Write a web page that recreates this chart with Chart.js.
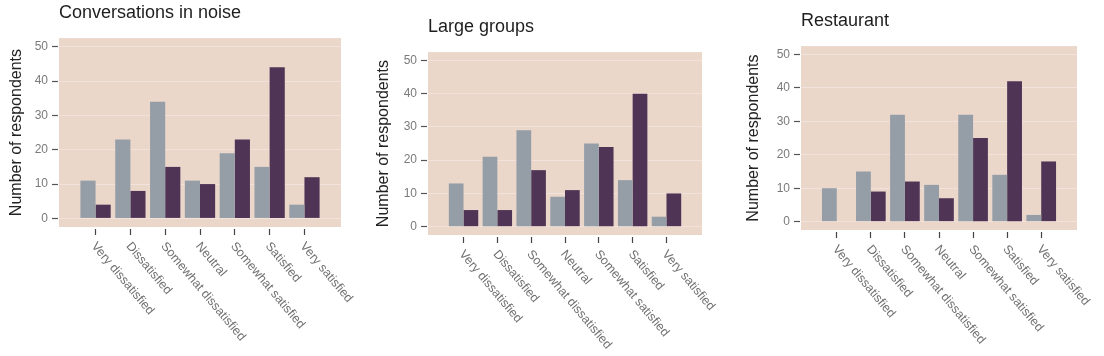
<!DOCTYPE html>
<html>
<head>
<meta charset="utf-8">
<script src="https://cdn.jsdelivr.net/npm/chart.js@4"></script>
<style>
  html, body { margin: 0; padding: 0; background: #ffffff; }
  body { width: 1104px; height: 356px; position: relative; overflow: hidden; }
  .panel { position: absolute; }
</style>
</head>
<body>
<div class="panel" id="p1"><canvas id="c1"></canvas></div>
<div class="panel" id="p2"><canvas id="c2"></canvas></div>
<div class="panel" id="p3"><canvas id="c3"></canvas></div>
<script>
// ---- data ----
const categories = ["Very dissatisfied", "Dissatisfied", "Somewhat dissatisfied", "Neutral", "Somewhat satisfied", "Satisfied", "Very satisfied"];
const yTicks = [0, 10, 20, 30, 40, 50];
const panelTitles = ["Conversations in noise", "Large groups", "Restaurant"];
const yAxisTitle = "Number of respondents";
const seriesNames = ["Group A", "Group B"];

const noiseGrey   = [11, 23, 34, 11, 19, 15, 4];
const noisePurple = [4, 8, 15, 10, 23, 44, 12];
const groupsGrey   = [13, 21, 29, 9, 25, 14, 3];
const groupsPurple = [5, 5, 17, 11, 24, 40, 10];
const restGrey   = [10, 15, 32, 11, 32, 14, 2];
const restPurple = [0, 9, 12, 7, 25, 42, 18];

// ---- styling / layout ----
const FONT = "'Liberation Sans', Arial, sans-serif";
const GREY = "#959ea6";
const PURPLE = "#4f3456";
const PANEL_BG = "#ebd6ca";

// geometry per panel (canvas placement and plot-area box)
const layouts = [
  { left: 0,   top: 0,  bgLeft: 59,  bgRight: 341,  bgBottom: 227 },
  { left: 367, top: 14, bgLeft: 428, bgRight: 702,  bgBottom: 235 },
  { left: 737, top: 8,  bgLeft: 801, bgRight: 1077, bgBottom: 230 }
];

const panelBg = {
  id: 'panelBg',
  beforeDraw(chart) {
    const { ctx, chartArea: a } = chart;
    ctx.save();
    ctx.fillStyle = PANEL_BG;
    ctx.fillRect(a.left, a.top, a.right - a.left, a.bottom - a.top);
    ctx.restore();
  }
};

const slantLabels = {
  id: 'slantLabels',
  afterDraw(chart) {
    const { ctx, chartArea: a } = chart;
    const xs = chart.scales.x;
    ctx.save();
    ctx.fillStyle = "#707070";
    ctx.font = "12.5px " + FONT;
    ctx.textAlign = "left";
    ctx.textBaseline = "middle";
    categories.forEach((lab, i) => {
      const x = xs.getPixelForValue(i) - 2;
      const y = a.bottom + 17;
      ctx.save();
      ctx.translate(x, y);
      ctx.rotate(50 * Math.PI / 180);
      ctx.fillText(lab, 0, 0);
      ctx.restore();
    });
    ctx.restore();
  }
};

function makeChart(idx, grey, purple) {
  const L = layouts[idx];
  const canvasW = L.bgRight - L.left + 20;
  const canvasH = 356 - L.top;
  const div = document.getElementById('p' + (idx + 1));
  div.style.left = L.left + 'px';
  div.style.top = L.top + 'px';
  div.style.width = canvasW + 'px';
  div.style.height = canvasH + 'px';
  const xAxisH = 8;
  const padBottom = canvasH - xAxisH - (L.bgBottom - L.top);

  new Chart(document.getElementById('c' + (idx + 1)), {
    type: 'bar',
    data: {
      datasets: [
        { label: seriesNames[0], data: grey.map((v, i) => ({ x: i, y: v })), backgroundColor: GREY, borderWidth: 0 },
        { label: seriesNames[1], data: purple.map((v, i) => ({ x: i, y: v })), backgroundColor: PURPLE, borderWidth: 0 }
      ]
    },
    options: {
      responsive: true,
      maintainAspectRatio: false,
      animation: false,
      events: [],
      categoryPercentage: 0.87,
      barPercentage: 1.0,
      layout: { padding: { left: 0, right: 20, top: 0, bottom: padBottom } },
      plugins: {
        legend: { display: false },
        tooltip: { enabled: false },
        title: {
          display: true,
          text: panelTitles[idx],
          align: 'start',
          fullSize: false,
          color: '#1e1e1e',
          font: { family: FONT, size: 18, weight: 'normal' },
          padding: { top: 2.5, bottom: 14 }
        }
      },
      scales: {
        x: {
          type: 'linear',
          min: -1.05,
          max: 7.05,
          offset: false,
          afterBuildTicks: (s) => { s.ticks = categories.map((_, i) => ({ value: i })); },
          afterFit: (s) => { s.height = xAxisH; },
          border: { display: false },
          grid: {
            offset: false,
            drawOnChartArea: false,
            drawTicks: true,
            tickLength: 8,
            tickColor: '#444444',
            tickWidth: 1.2,
            tickBorderDash: [0, 2, 6, 100]
          },
          ticks: { display: false }
        },
        y: {
          min: -2.5,
          max: 52.5,
          afterBuildTicks: (s) => { s.ticks = yTicks.map(v => ({ value: v })); },
          afterFit: (s) => { s.width = L.bgLeft - L.left; },
          border: { display: false },
          grid: {
            color: 'rgba(255,255,255,0.32)',
            lineWidth: 1,
            drawTicks: true,
            tickLength: 7,
            tickColor: '#555555',
            tickWidth: 1.2,
            tickBorderDash: [6, 100]
          },
          ticks: {
            color: '#7a7a7a',
            font: { family: FONT, size: 12 },
            padding: 4,
            callback: (v) => String(v)
          },
          title: {
            display: true,
            text: yAxisTitle,
            color: '#222222',
            font: { family: FONT, size: 16 },
            padding: { top: 7, bottom: 0 }
          }
        }
      }
    },
    plugins: [panelBg, slantLabels]
  });
}

makeChart(0, noiseGrey, noisePurple);
makeChart(1, groupsGrey, groupsPurple);
makeChart(2, restGrey, restPurple);
</script>
</body>
</html>
